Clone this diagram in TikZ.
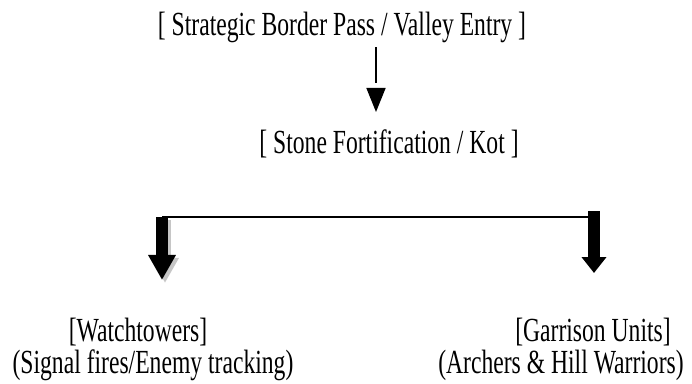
\documentclass[tikz,border=0pt]{standalone}
\usepackage{fontspec}
\setmainfont{Liberation Serif}[FakeStretch=0.7]
\usetikzlibrary{arrows.meta,calc}
\tikzset{lbl/.style = {inner sep=0, font=\fontsize{24}{28}\selectfont}}
\tikzset{thin/.style = {line width=1.1pt}}
\tikzset{blk/.style = {line width=0.3cm}}

\begin{document}
\begin{tikzpicture}[x=0.025cm, y=-0.025cm]
  \useasboundingbox (0,0) rectangle (692,383);
  \node[lbl] (pass) at (342,27.5) {[ Strategic Border Pass / Valley Entry ]};
  \node[lbl] (kot) at (389,143.5) {[ Stone Fortification / Kot ]};
  \node[lbl] (watch) at (138,332) {[Watchtowers]};
  \node[lbl] (signal) at (153,365) {(Signal fires/Enemy tracking)};
  \node[lbl] (garrison) at (593,332) {[Garrison Units]};
  \node[lbl] (archers) at (561,365) {(Archers \& Hill Warriors)};
  \coordinate (passout) at (376,47);
  \coordinate (stemend) at (376,83);
  \coordinate (headtop) at (376,88);
  \coordinate (kotin) at (376,112);
  \coordinate (barL) at (162,217);
  \coordinate (barR) at (594,217);
  \coordinate (watchin) at (162,280);
  \coordinate (garrtop) at (594,211);
  \coordinate (garrin) at (594,273);
  \draw [thin] (passout) -- (stemend);
  \draw [thin, -{Triangle[width=0.475cm, length=0.6cm]}] (headtop) -- (kotin);
  \draw [thin] (barL) -- (barR);
  \draw [blk, gray!45, -{Triangle[width=0.65cm, length=0.625cm]}] ($(barL)+(3,3)$) -- ($(watchin)+(3,3)$);
  \draw [blk, -{Triangle[width=0.65cm, length=0.625cm]}] (barL) -- (watchin);
  \draw [blk, -{Triangle[width=0.6cm, length=0.4cm]}] (garrtop) -- (garrin);
\end{tikzpicture}
\end{document}
